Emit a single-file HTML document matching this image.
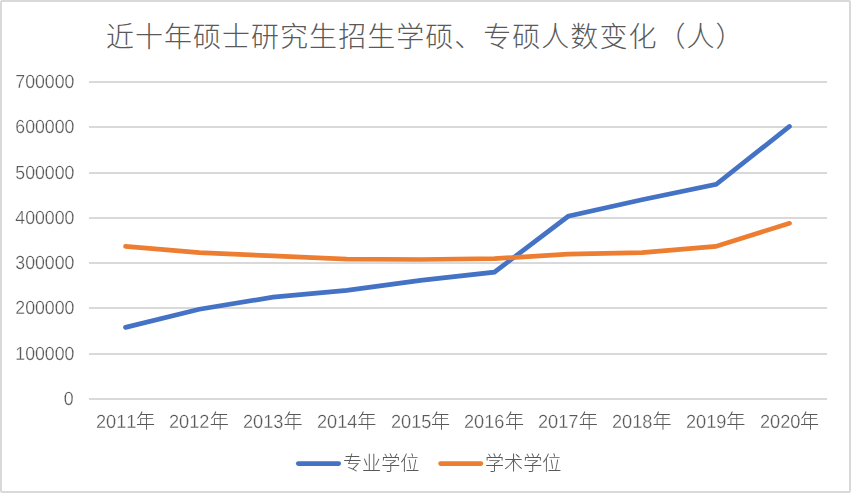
<!DOCTYPE html>
<html lang="zh-CN">
<head>
<meta charset="utf-8">
<title>近十年硕士研究生招生学硕、专硕人数变化（人）</title>
<style>
html,body{margin:0;padding:0;background:#fff;}
body{width:851px;height:493px;overflow:hidden;font-family:"Liberation Sans",sans-serif;color:#595959;}
.chart{position:relative;box-sizing:border-box;width:851px;height:493px;border:2px solid #D9D9D9;border-radius:2px;background:#fff;}
.root{position:absolute;left:-2px;top:-2px;width:851px;height:493px;}
.abs{position:absolute;left:0;top:0;width:851px;height:493px;}
svg{display:block;overflow:visible;}
.glyphs{fill:#595959;stroke:none;font-family:"Liberation Sans","Noto Sans CJK SC",sans-serif;font-weight:300;}
.gt{font-size:28px;letter-spacing:1.03px;}
.gs{font-size:19.08px;}
h1{margin:0;font-size:0;font-weight:normal;}
.grid i{position:absolute;left:89px;width:738px;height:2px;background:#D9D9D9;}
.ylab span,.xlab span{position:absolute;font-size:19.0px;line-height:20px;height:20px;white-space:nowrap;color:#595959;-webkit-text-stroke:0.26px #fff;transform:scaleX(0.932);}
.ylab,.xlab{will-change:transform;text-rendering:geometricPrecision;font-kerning:none;}
.ylab span{right:777.0px;transform-origin:100% 50%;}
.xlab span{transform-origin:0 50%;transform:scaleX(0.956);}
.sr{position:absolute;width:1px;height:1px;overflow:hidden;clip:rect(0 0 0 0);white-space:nowrap;font-size:1px;color:transparent;}
</style>
</head>
<body>
<div class="chart">
<div class="root">

<h1>
<svg class="abs glyphs gt" width="851" height="493" viewBox="0 0 851 493" role="img" aria-label="近十年硕士研究生招生学硕、专硕人数变化（人）">
<text x="105.9" y="47">近十年硕士研究生招生学硕、专硕人数变化（人）</text>
</svg></h1>
<div class="grid abs"><i style="top:81px"></i><i style="top:126px"></i><i style="top:172px"></i><i style="top:217px"></i><i style="top:262px"></i><i style="top:307px"></i><i style="top:353px"></i><i style="top:398px"></i></div>
<div class="ylab abs">
<span style="top:73.1px">700000</span>
<span style="top:118.1px">600000</span>
<span style="top:164.1px">500000</span>
<span style="top:209.1px">400000</span>
<span style="top:254.1px">300000</span>
<span style="top:299.1px">200000</span>
<span style="top:345.1px">100000</span>
<span style="top:390.1px">0</span>
</div>
<svg class="abs" width="851" height="493" viewBox="0 0 851 493" fill="none" stroke-width="4.7" stroke-linecap="round" stroke-linejoin="miter">
<polyline stroke="#4472C4" points="125.5,327.4 199.3,309.3 273.1,297.1 346.8,290.3 420.6,280.4 494.4,272.2 568.2,216.3 641.9,199.7 716.2,184.4 789.5,126.4"/>
<polyline stroke="#ED7D31" points="125.5,246.4 199.3,252.7 273.1,255.9 346.8,259.1 420.6,259.5 494.4,258.6 568.2,254.1 641.9,252.7 715.7,246.4 789.5,223.3"/>
<line stroke="#4472C4" x1="298.3" y1="463.6" x2="338.7" y2="463.6"/>
<line stroke="#ED7D31" x1="440.6" y1="463.6" x2="480.9" y2="463.6"/>
</svg>
<div class="xlab abs">
<span style="left:95.50px;top:412.8px">2011</span>
<span style="left:169.28px;top:412.8px">2012</span>
<span style="left:243.06px;top:412.8px">2013</span>
<span style="left:316.83px;top:412.8px">2014</span>
<span style="left:390.61px;top:412.8px">2015</span>
<span style="left:464.39px;top:412.8px">2016</span>
<span style="left:538.17px;top:412.8px">2017</span>
<span style="left:611.94px;top:412.8px">2018</span>
<span style="left:685.72px;top:412.8px">2019</span>
<span style="left:759.50px;top:412.8px">2020</span>
</div>
<svg class="abs glyphs gs" width="851" height="493" viewBox="0 0 851 493">
<text x="136.00" y="428.2">年</text>
<text x="209.78" y="428.2">年</text>
<text x="283.56" y="428.2">年</text>
<text x="357.33" y="428.2">年</text>
<text x="431.11" y="428.2">年</text>
<text x="504.89" y="428.2">年</text>
<text x="578.67" y="428.2">年</text>
<text x="652.44" y="428.2">年</text>
<text x="726.22" y="428.2">年</text>
<text x="800.00" y="428.2">年</text>
<text x="343.0" y="470.4">专业学位</text>
<text x="485.0" y="470.4">学术学位</text>
</svg>
</div></div>
</body>
</html>
